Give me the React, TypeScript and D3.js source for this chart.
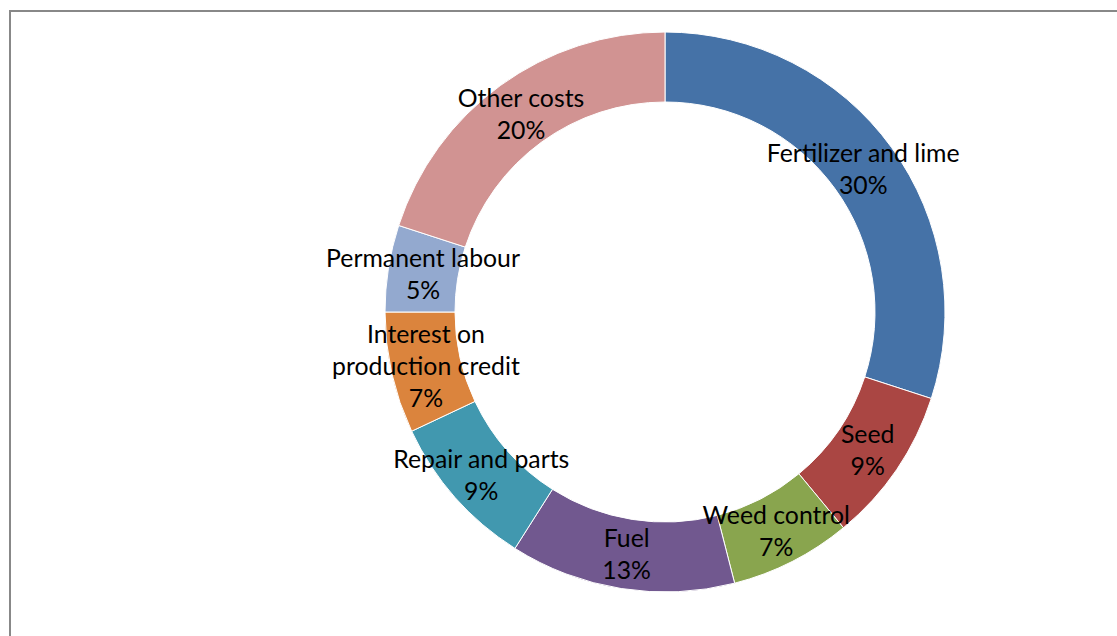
import React from "react";
import * as d3 from "d3";

const categories = [
  "Fertilizer and lime",
  "Seed",
  "Weed control",
  "Fuel",
  "Repair and parts",
  "Interest on production credit",
  "Permanent labour",
  "Other costs",
];
const values = [30, 9, 7, 13, 9, 7, 5, 20];
const labelLines = [
  ["Fertilizer and lime"],
  ["Seed"],
  ["Weed control"],
  ["Fuel"],
  ["Repair and parts"],
  ["Interest on", "production credit"],
  ["Permanent labour"],
  ["Other costs"],
];
const colors = ["#4572A7", "#AA4643", "#89A54E", "#71588F", "#4198AF", "#DB843D", "#93A9CF", "#D19392"];

export default function App() {
  const W = 1117, H = 636;
  const cx = 665, cy = 312, outerR = 280, innerR = 210;
  const total = d3.sum(values);
  const pie = d3.pie<number>().sort(null).value((d) => d)(values);
  const arc = d3.arc<d3.PieArcDatum<number>>().innerRadius(innerR).outerRadius(outerR);
  const lh = 32;
  return (
    <svg width={W} height={H} style={{ position: "absolute", left: 0, top: 0 }}>
      <rect x={0} y={0} width={W} height={H} fill="#fff" />
      <path d={`M10,${H} L10,11 L${W},11`} fill="none" stroke="#888" strokeWidth={2} />
      <g transform={`translate(${cx},${cy})`}>
        {pie.map((p, i) => (
          <path key={categories[i]} d={arc(p) || ""} fill={colors[i]} stroke="#fff" strokeWidth={1} />
        ))}
        {pie.map((p, i) => {
          const [x, y] = arc.centroid(p);
          const lines = [...labelLines[i], `${Math.round((values[i] / total) * 100)}%`];
          const start = y - ((lines.length - 1) * lh) / 2;
          return (
            <text key={"t" + i} x={x} textAnchor="middle" fontFamily="Lato, 'Open Sans', sans-serif" fontSize={24.8} fill="#000">
              {lines.map((l, j) => (
                <tspan key={j} x={x} y={start + j * lh} dominantBaseline="central">{l}</tspan>
              ))}
            </text>
          );
        })}
      </g>
    </svg>
  );
}
